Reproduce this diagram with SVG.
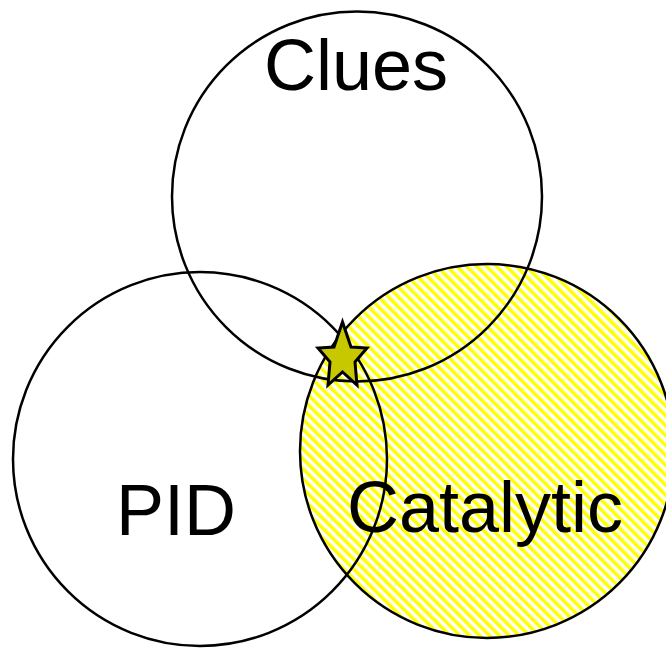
<svg xmlns="http://www.w3.org/2000/svg" width="666" height="648" viewBox="0 0 666 648">
<defs>
<pattern id="hatch" width="7" height="7" patternUnits="userSpaceOnUse" patternTransform="rotate(-45)">
<rect width="7" height="7" fill="#ffffff"/>
<rect width="3.5" height="7" fill="#ffff00"/>
</pattern>
</defs>
<style>
.c{fill:none;stroke:#000;stroke-width:2.5}
.t{font-family:"Liberation Sans",Arial,sans-serif;font-size:72px;fill:#000;text-anchor:middle}
</style>
<rect width="666" height="648" fill="#fff"/>
<g id="catalytic">
<circle cx="487" cy="451" r="187" fill="url(#hatch)" stroke="#000" stroke-width="2.5"/>
</g>
<g id="clues">
<circle class="c" cx="357" cy="196.5" r="185"/>
<text class="t" x="356" y="90">Clues</text>
</g>
<g id="pid">
<circle class="c" cx="200" cy="459" r="187"/>
<text class="t" x="176" y="535">PID</text>
</g>
<text class="t" x="485" y="532">Catalytic</text>
<g id="star">
<polygon points="342.5,322 351,347 367,348 355,362 357,385 342.5,372 328,385 330,362 318,348 334,347" fill="#c8c800" stroke="#000" stroke-width="3" stroke-linejoin="miter"/>
</g>
<g id="connectors"/>
</svg>
